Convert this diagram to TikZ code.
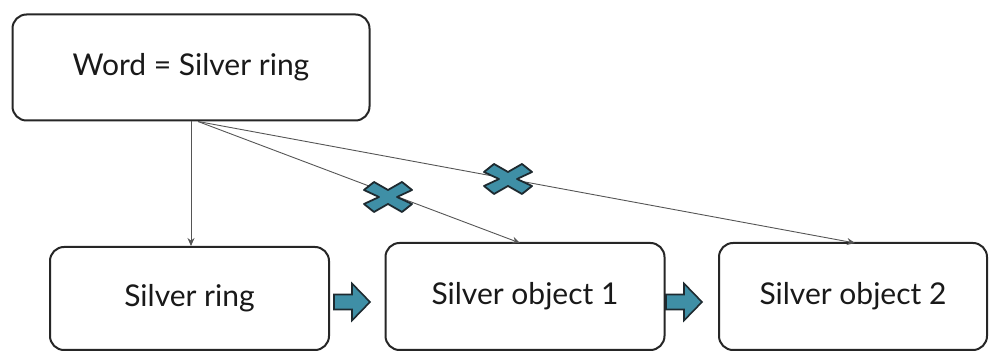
\documentclass[tikz,border=0pt]{standalone}
\usepackage{fontspec}
\setmainfont{Lato}
\usetikzlibrary{arrows.meta,calc}
\definecolor{boxline}{HTML}{262626}
\definecolor{conn}{HTML}{555555}
\definecolor{teal}{HTML}{3F8FA6}
\definecolor{tealdark}{HTML}{1E2A30}
\tikzset{
  box/.style={draw=boxline, line width=2pt, rounded corners=14pt, fill=white, font=\fontsize{30}{36}\selectfont, text=black!90},
  conn/.style={draw=conn, line width=0.9pt, -{Stealth[length=8pt,width=7pt]}},
  blockarrow/.style={draw=tealdark, fill=teal, line width=1.6pt, line join=miter},
  xmark/.style={draw=tealdark, fill=teal, line width=1.8pt, line join=round}
}
\newcommand{\xshape}[2]{%
  \draw[xmark] (#1,#2) ++(-24,-7) -- ++(10,-8) -- ++(14,8) -- ++(14,-8) -- ++(10,8) -- ++(-15,7) -- ++(15,7) -- ++(-10,8) -- ++(-14,-8) -- ++(-14,8) -- ++(-10,-8) -- ++(15,-7) -- cycle;}
\newcommand{\barrow}[2]{%
  \draw[blockarrow] (#1,#2) ++(0,-7.5) -- ++(18,0) -- ++(0,-11) -- ++(18,18.5) -- ++(-18,18.5) -- ++(0,-11) -- ++(-18,0) -- cycle;}
\begin{document}
\begin{tikzpicture}[x=1pt,y=-1pt]
\useasboundingbox (0,0) rectangle (989,352);
\node[box, minimum width=357pt, minimum height=106pt] (top) at (191,67.5) {Word = Silver ring};
\node[box, minimum width=279pt, minimum height=103pt] (b1) at (189.5,298.5) {Silver ring};
\node[box, minimum width=279pt, minimum height=107pt] (b2) at (525,296.5) {Silver object 1};
\node[box, minimum width=268pt, minimum height=107pt] (b3) at (853,296.5) {Silver object 2};
\coordinate (s) at ($(top.south)+(7,0)$);
\coordinate (t2) at (520,243);
\coordinate (t3) at (855,243);
\draw[conn] (top.south) -- (top.south |- b1.north);
\draw[conn] (s) -- (t2);
\draw[conn] (s) -- (t3);
\xshape{388}{197}
\xshape{508}{179}
\barrow{334}{302}
\barrow{666}{302}
\end{tikzpicture}
\end{document}
